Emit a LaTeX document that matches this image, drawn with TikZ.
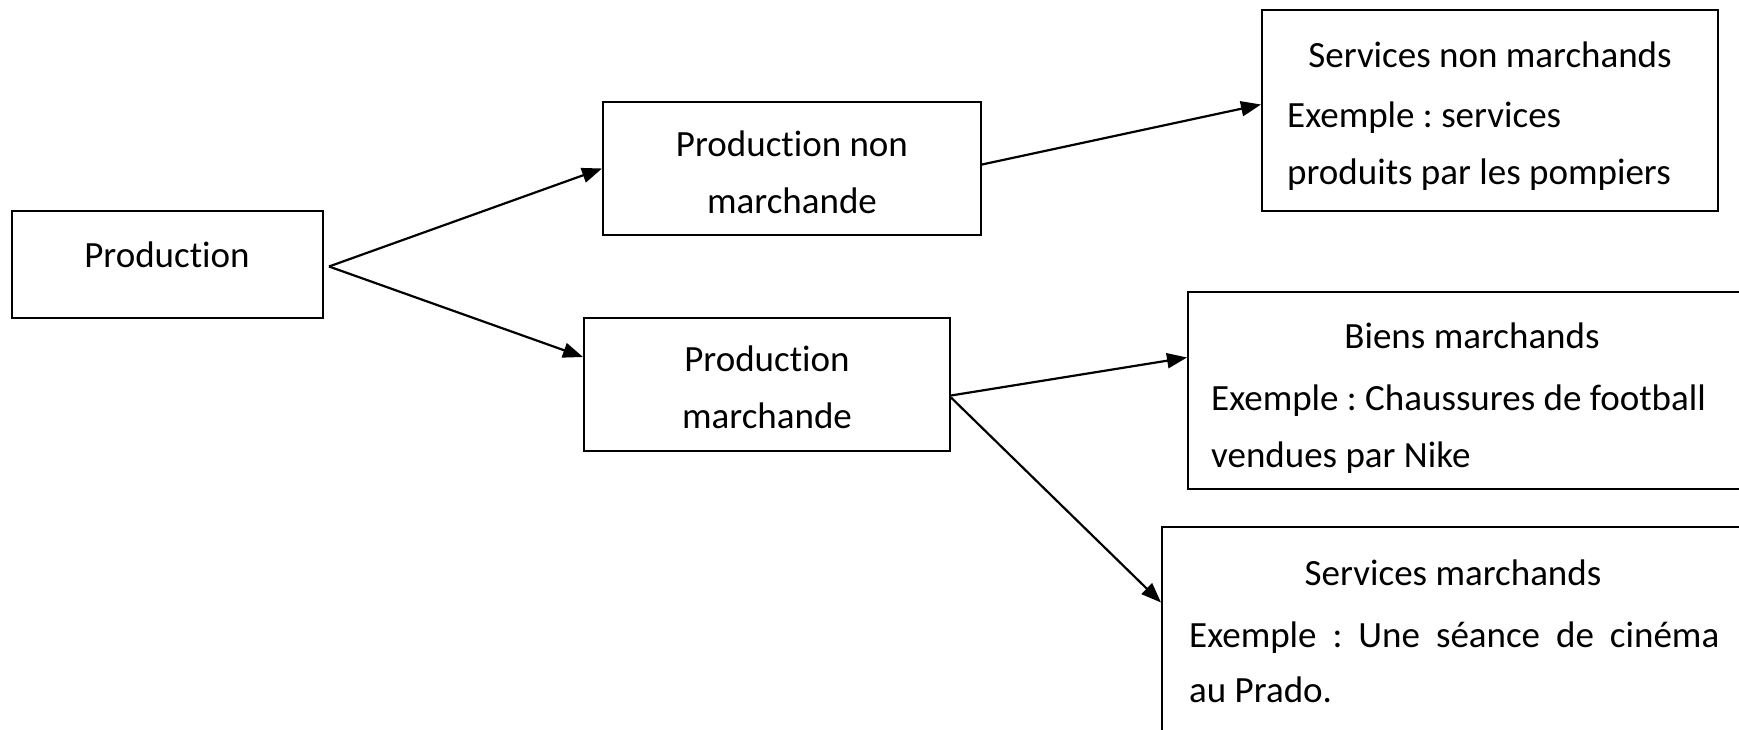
\documentclass[tikz,border=0pt]{standalone}
\usepackage{fontspec}
\setmainfont{Carlito}[Ligatures={NoCommon}]
\usetikzlibrary{arrows.meta}
\frenchspacing
\begin{document}
\begin{tikzpicture}[x=1pt,y=-1pt,
  box/.style={draw=black,line width=2pt,inner sep=0pt,rectangle},
  txt/.style={inner sep=0pt,font=\fontsize{37}{44}\selectfont},
  conn/.style={line width=2.2pt,-{Triangle[length=20pt,width=15pt]}}]
\clip (0,0) rectangle (1739,730);
\useasboundingbox (0,0) rectangle (1739,730);
% boxes
\node[box,minimum width=311pt,minimum height=107pt] (P) at (167.5,264.5) {};
\node[box,minimum width=378pt,minimum height=133pt] (PNM) at (792,168.5) {};
\node[box,minimum width=366pt,minimum height=133pt] (PM) at (767,384.5) {};
\node[box,minimum width=456pt,minimum height=201pt] (SNM) at (1490,110.5) {};
\node[box,minimum width=568pt,minimum height=197pt] (BM) at (1472,390.5) {};
\node[box,minimum width=583pt,minimum height=233pt] (SM) at (1453.5,643.5) {};
% texts
\node[txt,anchor=base] (tP) at (167,267) {Production};
\node[txt,anchor=base] (tPNM1) at (792,157) {Production non};
\node[txt,anchor=base] (tPNM2) at (792,213) {marchande};
\node[txt,anchor=base] (tPM1) at (767,371) {Production};
\node[txt,anchor=base] (tPM2) at (767,428) {marchande};
\node[txt,anchor=base] (tSNM1) at (1490,68) {Services non marchands};
\node[txt,anchor=base west] (tSNM2) at (1287,128) {Exemple : services};
\node[txt,anchor=base west] (tSNM3) at (1287,185) {produits par les pompiers};
\node[txt,anchor=base] (tBM1) at (1472,348) {Biens marchands};
\node[txt,anchor=base west] (tBM2) at (1211,410) {Exemple : Chaussures de football};
\node[txt,anchor=base west] (tBM3) at (1211,467) {vendues par Nike};
\node[txt,anchor=base] (tSM1) at (1453,585) {Services marchands};
\node[txt,anchor=base west] (tSM2) at (1189,647) {\makebox[530pt][s]{Exemple : Une séance de cinéma}};
\node[txt,anchor=base west] (tSM3) at (1189,702) {au Prado.};
% connectors
\draw[conn] ([xshift=5pt,yshift=-2pt]P.east) -- (PNM.west);
\draw[conn] ([xshift=5pt,yshift=-2pt]P.east) -- ([yshift=27.5pt]PM.west);
\draw[conn] ([yshift=4pt]PNM.east) -- ([yshift=6pt]SNM.west);
\draw[conn] ([yshift=-11pt]PM.east) -- ([yshift=33pt]BM.west);
\draw[conn] ([yshift=-13pt]PM.east) -- ([yshift=41pt]SM.west);
\end{tikzpicture}
\end{document}
